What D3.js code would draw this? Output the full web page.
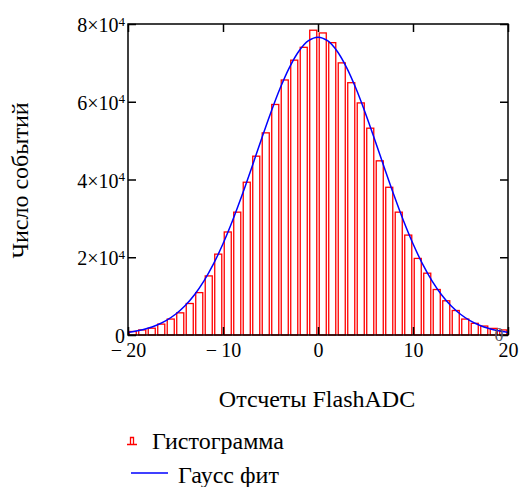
<!DOCTYPE html>
<html>
<head>
<meta charset="utf-8">
<script src="https://cdn.jsdelivr.net/npm/d3@7"></script>
<style>
  body { margin: 0; background: #fff; }
  text { font-family: "Liberation Serif", "Times New Roman", serif; fill: #000; }
</style>
</head>
<body>
<div id="chart"></div>
<script>
// histogram bins (centres) and counts
const binCenters = [-19.5, -18.5, -17.5, -16.5, -15.5, -14.5, -13.5, -12.5, -11.5, -10.5,
  -9.5, -8.5, -7.5, -6.5, -5.5, -4.5, -3.5, -2.5, -1.5, -0.5,
  0.5, 1.5, 2.5, 3.5, 4.5, 5.5, 6.5, 7.5, 8.5, 9.5,
  10.5, 11.5, 12.5, 13.5, 14.5, 15.5, 16.5, 17.5, 18.5, 19.5];
const binCounts = [900, 1300, 1750, 2800, 4100, 5700, 8100, 10900, 15200, 20800,
  26500, 31600, 39300, 46000, 52000, 59300, 65600, 70700, 74000, 78400,
  77700, 75200, 70000, 64900, 59700, 53200, 44800, 38000, 31600, 25700,
  19700, 15900, 11700, 8800, 6300, 4100, 3000, 2300, 1700, 1300];

// gauss fit curve, sampled at integer counts
const fitX = [-20, -19, -18, -17, -16, -15, -14, -13, -12, -11, -10, -9, -8, -7, -6, -5, -4, -3, -2, -1,
  0, 1, 2, 3, 4, 5, 6, 7, 8, 9, 10, 11, 12, 13, 14, 15, 16, 17, 18, 19, 20];
const fitY = [670, 1070, 1660, 2510, 3700, 5340, 7530, 10370, 13940, 18300, 23460, 29370, 35920, 42890, 50030, 56980, 63390, 68860, 73060, 75700,
  76600, 75700, 73060, 68860, 63390, 56980, 50030, 42890, 35920, 29370, 23460, 18300, 13940, 10370, 7530, 5340, 3700, 2510, 1660, 1070, 670];

const xTicks = [-20, -10, 0, 10, 20];
const yTicks = [0, 20000, 40000, 60000, 80000];
const xTitle = 'Отсчеты FlashADC';
const yTitle = 'Число событий';
const legendLabels = ['Гистограмма', 'Гаусс фит'];

const width = 522;
const height = 487;
const margin = { left: 128, top: 24 };
const plotW = 380;
const plotH = 311;

const svg = d3.select('#chart').append('svg')
  .attr('width', width)
  .attr('height', height);

const x = d3.scaleLinear().domain([-20, 20]).range([0, plotW]);
const y = d3.scaleLinear().domain([0, 80000]).range([plotH, 0]);

const g = svg.append('g')
  .attr('transform', `translate(${margin.left},${margin.top})`);

// bars
const barW = x(0.74) - x(0);
g.selectAll('rect.bar')
  .data(binCenters)
  .enter()
  .append('rect')
  .attr('class', 'bar')
  .attr('x', d => x(d) - barW / 2)
  .attr('y', (d, i) => y(binCounts[i]))
  .attr('width', barW)
  .attr('height', (d, i) => y(0) - y(binCounts[i]))
  .attr('fill', '#fff')
  .attr('stroke', '#ff0000')
  .attr('stroke-width', 1.3);

// fit curve
const line = d3.line()
  .x((d, i) => x(fitX[i]))
  .y(d => y(d))
  .curve(d3.curveCatmullRom);

g.append('path')
  .datum(fitY)
  .attr('d', line)
  .attr('fill', 'none')
  .attr('stroke', '#0000ff')
  .attr('stroke-width', 1.5);

// axes: ticks point inwards on all four sides
const minus = v => (v < 0 ? '\u2212\u2009' + Math.abs(v) : String(v));

const xAxis = g.append('g')
  .attr('transform', `translate(0,${plotH})`)
  .call(d3.axisBottom(x).tickValues(xTicks).tickSize(-8).tickSizeOuter(0).tickPadding(8).tickFormat(minus));

g.append('g')
  .call(d3.axisTop(x).tickValues(xTicks).tickSize(-8).tickSizeOuter(0).tickFormat(''));

const yAxis = g.append('g')
  .call(d3.axisLeft(y).tickValues(yTicks).tickSize(-8).tickSizeOuter(0).tickPadding(3).tickFormat(''));

g.append('g')
  .attr('transform', `translate(${plotW},0)`)
  .call(d3.axisRight(y).tickValues(yTicks).tickSize(-8).tickSizeOuter(0).tickFormat(''));

g.selectAll('.domain').remove();
g.selectAll('.tick line').attr('stroke', '#000').attr('stroke-width', 1.5);

xAxis.selectAll('text')
  .style('font-size', '20px')
  .attr('font-family', null);

// y labels as  n×10^4
yAxis.selectAll('.tick').each(function (d) {
  const t = d3.select(this).append('text')
    .attr('x', -3)
    .attr('dy', '0.38em')
    .attr('text-anchor', 'end')
    .style('font-size', '20px');
  if (d === 0) {
    t.text('0');
  } else {
    t.append('tspan').text((d / 10000) + '\u00d710');
    t.append('tspan').text('4').attr('dy', '-0.5em').style('font-size', '13px');
  }
});

// frame
g.append('rect')
  .attr('width', plotW)
  .attr('height', plotH)
  .attr('fill', 'none')
  .attr('stroke', '#000')
  .attr('stroke-width', 1.5);

g.append('text')
  .attr('x', plotW - 9)
  .attr('y', plotH + 6)
  .attr('text-anchor', 'middle')
  .style('font-size', '18px')
  .style('fill', '#556')
  .text('0');

// titles
svg.append('text')
  .attr('x', margin.left + plotW / 2 - 1)
  .attr('y', 407)
  .attr('text-anchor', 'middle')
  .style('font-size', '24px')
  .text(xTitle);

svg.append('text')
  .attr('transform', `translate(28,${margin.top + plotH / 2 + 1}) rotate(-90)`)
  .attr('text-anchor', 'middle')
  .style('font-size', '24px')
  .text(yTitle);

// legend
const legend = svg.append('g');

legend.append('path')
  .attr('d', 'M127,444.5H137M130.5,444.5V437.5H133.5V444.5')
  .attr('fill', 'none')
  .attr('stroke', '#ff0000')
  .attr('stroke-width', 1.3);

legend.append('text')
  .attr('x', 152)
  .attr('y', 449)
  .style('font-size', '24px')
  .text(legendLabels[0]);

legend.append('line')
  .attr('x1', 131)
  .attr('x2', 168)
  .attr('y1', 473)
  .attr('y2', 473)
  .attr('stroke', '#0000ff')
  .attr('stroke-width', 1.5);

legend.append('text')
  .attr('x', 178)
  .attr('y', 483)
  .style('font-size', '24px')
  .text(legendLabels[1]);
</script>
</body>
</html>
